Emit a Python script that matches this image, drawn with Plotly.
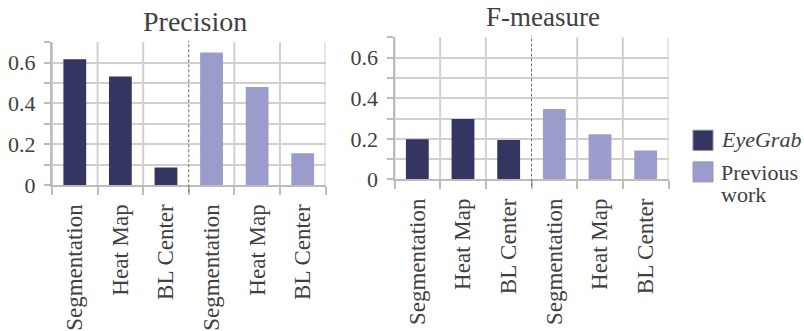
import plotly.graph_objects as go

categories = ["Segmentation", "Heat Map", "BL Center"]
series_names = ["EyeGrab", "Previous work"]
precision_eyegrab = [0.616, 0.532, 0.086]
precision_previous = [0.649, 0.480, 0.156]
fmeasure_eyegrab = [0.198, 0.297, 0.194]
fmeasure_previous = [0.347, 0.222, 0.142]
panel_titles = ["Precision", "F-measure"]
y_tickvals = [0, 0.1, 0.2, 0.3, 0.4, 0.5, 0.6, 0.7]
y_ticktext = ["0", "", "0.2", "", "0.4", "", "0.6", ""]

W, H = 804, 331
DARK = "#353562"
LIGHT = "#9b9bcc"
TXT = "#404040"
GRID = "#d0d0d0"
AXIS = "#bcbcbc"
FONT = "'Times New Roman', 'Liberation Serif', Times, serif"

labels = categories + categories
xpos = list(range(len(labels)))
n = len(categories)

fig = go.Figure()
panels = [(precision_eyegrab, precision_previous), (fmeasure_eyegrab, fmeasure_previous)]
for i, (eg, pw) in enumerate(panels):
    xa = "x" if i == 0 else "x2"
    ya = "y" if i == 0 else "y2"
    fig.add_trace(go.Bar(x=xpos[:n], y=eg, width=0.5, marker=dict(color=DARK, line=dict(width=0)),
                         name=series_names[0], showlegend=False, xaxis=xa, yaxis=ya))
    fig.add_trace(go.Bar(x=xpos[n:], y=pw, width=0.5, marker=dict(color=LIGHT, line=dict(width=0)),
                         name=series_names[1], showlegend=False, xaxis=xa, yaxis=ya))

def px_x(p):
    return p / W

def px_y(p):
    return 1 - p / H

xdomains = [[px_x(52), px_x(325.5)], [px_x(394.5), px_x(668.5)]]
ydomains = [[px_y(193.3), px_y(44)], [px_y(187.3), px_y(39)]]

boundaries = [b - 0.5 for b in range(len(labels) + 1)]
grid_bounds = [b for b in boundaries if abs(b - (n - 0.5)) > 1e-9]

for i in range(2):
    sx = "" if i == 0 else "2"
    xaxis = dict(domain=xdomains[i], range=[-0.5, len(labels) - 0.5], anchor="y" + sx,
                 tickmode="array", tickvals=xpos, ticktext=labels, tickangle=-90,
                 ticks="", showgrid=False, zeroline=False,
                 showline=True, linecolor=AXIS, linewidth=2,
                 tickfont=dict(family=FONT, size=23, color=TXT),
                 ticklabelstandoff=8,
                 minor=dict(tickmode="array", tickvals=boundaries, ticks="outside", ticklen=8,
                            tickcolor=AXIS, tickwidth=2, showgrid=False),
                 fixedrange=True)
    yaxis = dict(domain=ydomains[i], range=[0, 0.7], anchor="x" + sx,
                 tickmode="array", tickvals=y_tickvals, ticktext=y_ticktext,
                 ticks="outside", ticklen=6, tickcolor=AXIS, tickwidth=2,
                 showgrid=True, gridcolor=GRID, gridwidth=2,
                 zeroline=False, showline=True, linecolor=AXIS, linewidth=2,
                 tickfont=dict(family=FONT, size=22, color=TXT),
                 ticklabelstandoff=4, fixedrange=True)
    fig.update_layout(**{"xaxis" + sx: xaxis, "yaxis" + sx: yaxis})
    for b in grid_bounds:
        fig.add_shape(type="line", xref="x" + sx, yref="y" + sx + " domain", x0=b, x1=b, y0=0, y1=1,
                      line=dict(color=GRID, width=2), layer="below")
    fig.add_shape(type="line", xref="x" + sx, yref="y" + sx + " domain", x0=n - 0.5, x1=n - 0.5,
                  y0=-0.05, y1=1.01, line=dict(color="#707070", width=1, dash="3px,2px"), layer="above")

annotations = [
    dict(text=panel_titles[0], x=px_x(195), y=px_y(22.5), xref="paper", yref="paper",
         xanchor="center", yanchor="middle", showarrow=False,
         font=dict(family=FONT, size=28, color=TXT)),
    dict(text=panel_titles[1], x=px_x(543), y=px_y(18), xref="paper", yref="paper",
         xanchor="center", yanchor="middle", showarrow=False,
         font=dict(family=FONT, size=27, color=TXT)),
    dict(text="<i>" + series_names[0] + "</i>", x=px_x(719), y=px_y(145.5), xref="paper", yref="paper",
         xanchor="left", yanchor="middle", showarrow=False,
         font=dict(family=FONT, size=22, color=TXT)),
    dict(text="Previous", x=px_x(719), y=px_y(180.5), xref="paper", yref="paper",
         xanchor="left", yanchor="middle", showarrow=False,
         font=dict(family=FONT, size=22, color=TXT)),
    dict(text="work", x=px_x(719), y=px_y(203), xref="paper", yref="paper",
         xanchor="left", yanchor="middle", showarrow=False,
         font=dict(family=FONT, size=22, color=TXT)),
]
shapes_legend = [
    dict(type="rect", xref="paper", yref="paper", x0=px_x(693), x1=px_x(713), y0=px_y(157), y1=px_y(136),
         fillcolor=DARK, line=dict(color="#8a8a9a", width=1)),
    dict(type="rect", xref="paper", yref="paper", x0=px_x(693), x1=px_x(713), y0=px_y(190), y1=px_y(169),
         fillcolor=LIGHT, line=dict(color="#9a9aa8", width=1)),
]
for s in shapes_legend:
    fig.add_shape(**s)

fig.update_layout(width=W, height=H, margin=dict(l=0, r=0, t=0, b=0),
                  paper_bgcolor="white", plot_bgcolor="white", barmode="overlay",
                  annotations=annotations, showlegend=False)

fig.write_html("out.html", config={"displayModeBar": False, "staticPlot": True},
               post_script="document.body.style.margin='0';document.body.style.overflow='hidden';")
